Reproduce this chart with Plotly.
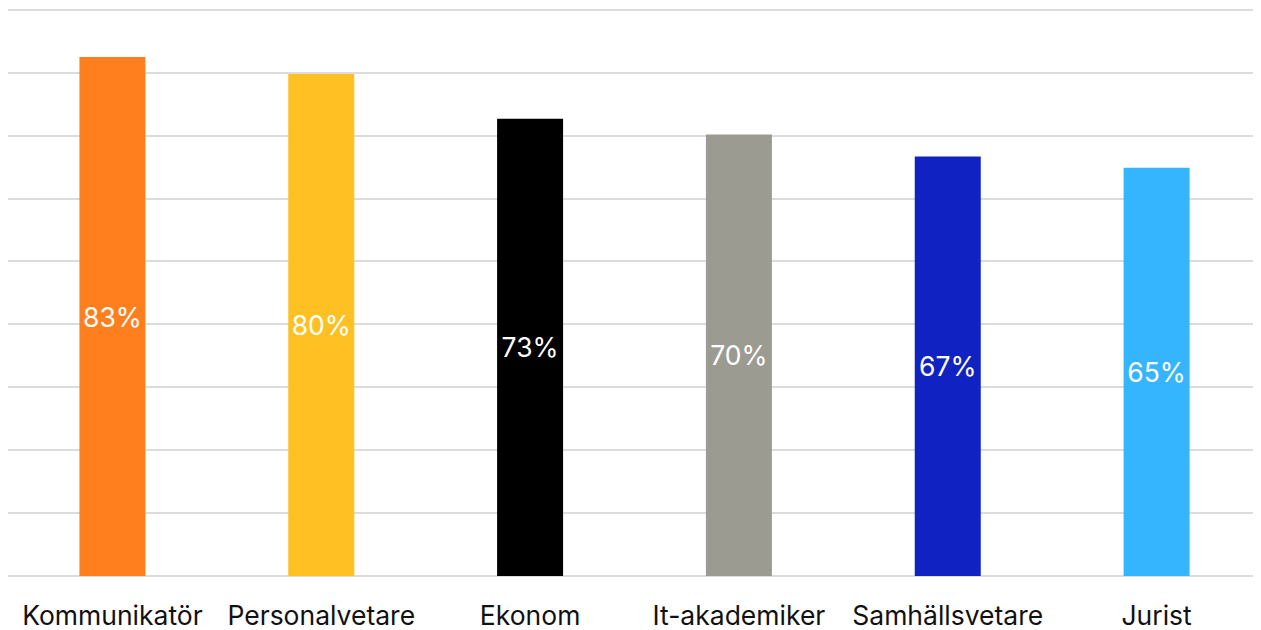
import plotly.graph_objects as go

categories = ["Kommunikatör", "Personalvetare", "Ekonom", "It-akademiker", "Samhällsvetare", "Jurist"]
values = [82.5, 79.8, 72.7, 70.2, 66.7, 64.9]
labels = ["83%", "80%", "73%", "70%", "67%", "65%"]
colors = ["#FF7F1F", "#FFC024", "#000000", "#9B9B92", "#1023C2", "#36B5FF"]

fig = go.Figure(go.Bar(
    x=categories, y=values, text=labels,
    marker=dict(color=colors, line=dict(width=0)),
    textposition="inside", insidetextanchor="middle",
    textfont=dict(family="Inter", size=26.5, color="white"),
    textangle=0, hoverinfo="skip",
))

fig.update_layout(
    width=1253, height=622,
    margin=dict(l=0, r=0, t=0, b=54),
    paper_bgcolor="white", plot_bgcolor="white",
    bargap=0.684, showlegend=False,
    font=dict(family="Inter", size=26.5, color="#111111"),
)
fig.update_yaxes(range=[0, 90.3], tick0=0, dtick=10, showticklabels=False,
                 showgrid=True, gridcolor="#DCDCDC", gridwidth=2, automargin=False,
                 zeroline=True, zerolinecolor="#DCDCDC", zerolinewidth=2)
fig.update_xaxes(showgrid=False, ticks="", ticklabelstandoff=21, automargin=False,
                 tickfont=dict(family="Inter", size=26.5, color="#111111"))

fig.write_html("out.html")
